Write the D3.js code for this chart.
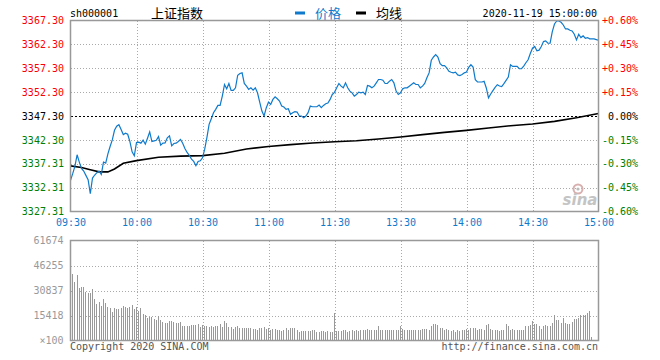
<!DOCTYPE html>
<html>
<head>
    <meta charset="utf-8">
    <title>上证指数 分时</title>
    <script src="https://cdnjs.cloudflare.com/ajax/libs/d3/7.8.5/d3.min.js"></script>
    <style>
        body { margin: 0; background: #fff; }
        text { font-family: "DejaVu Sans Mono", monospace; font-size: 10px; }
    </style>
</head>
<body>
<div id="graph"></div>
<script>
    var width = 660;
    var height = 360;

    // 昨收
    var preClose = 3347.30;

    // one price per minute, 09:30 .. 11:30, 13:01 .. 15:00
    var prices = [
        3333.83, 3335.22, 3336.74, 3339.18, 3337.65, 3336.33, 3335.77, 3334.87, 3333.97, 3331.05,
        3334.31, 3334.94, 3335.43, 3335.77, 3335.08, 3337.65, 3337.44, 3339.38, 3340.91, 3342.30,
        3344.31, 3345.15, 3345.49, 3344.45, 3343.41, 3343.69, 3343.48, 3341.95, 3339.80, 3338.97,
        3341.74, 3341.81, 3341.61, 3342.23, 3341.40, 3342.65, 3343.97, 3341.95, 3342.09, 3342.23,
        3342.99, 3341.19, 3341.61, 3341.68, 3342.72, 3343.13, 3341.05, 3341.54, 3341.61, 3341.95,
        3342.37, 3341.61, 3340.49, 3339.66, 3339.04, 3338.27, 3337.79, 3336.88, 3337.79, 3337.93,
        3338.55,
        3340.36, 3342.79, 3345.56, 3346.74, 3347.99, 3348.69, 3349.52, 3349.52, 3351.47, 3353.90,
        3352.99, 3354.11, 3352.65, 3352.65, 3353.20, 3355.84, 3356.19, 3356.33, 3354.11, 3353.55,
        3352.86, 3353.20, 3352.72, 3353.20, 3352.16, 3350.22, 3348.34, 3347.30, 3349.04, 3350.22,
        3349.73, 3350.77, 3351.33, 3350.91, 3350.42, 3349.38, 3349.17, 3348.69, 3348.83, 3347.65,
        3347.99, 3348.20, 3348.13, 3347.30, 3347.30, 3346.95, 3347.30, 3347.99, 3349.38, 3349.24,
        3349.24, 3349.24, 3349.59, 3349.04, 3349.52, 3349.87, 3350.01, 3350.77, 3351.81, 3352.25,
        3353.20, 3354.11, 3353.55, 3353.20, 3354.24, 3353.20, 3352.51, 3352.16, 3351.47, 3351.81,
        3352.30, 3352.16, 3352.30, 3351.81, 3353.69, 3353.55, 3353.20, 3353.55, 3354.24, 3354.94,
        3354.94, 3354.80, 3354.11, 3354.11, 3354.59, 3354.94, 3354.24, 3352.51, 3351.81, 3352.16,
        3352.99, 3353.20, 3353.20, 3353.55, 3353.90, 3354.24, 3353.90, 3353.90, 3353.20, 3353.55,
        3354.11, 3355.29, 3356.33, 3358.97, 3359.66, 3360.15, 3359.66, 3358.27, 3357.85, 3357.85,
        3357.37, 3356.67, 3356.47, 3356.33, 3356.47, 3355.91, 3355.77, 3355.98, 3356.33, 3356.50,
        3357.47, 3358.03, 3357.54, 3354.90, 3354.42, 3354.42, 3354.42, 3354.56, 3353.17, 3351.09,
        3351.92, 3352.61, 3353.31, 3353.86, 3353.59, 3353.45, 3354.07, 3354.77, 3355.46, 3358.03,
        3357.68, 3357.68, 3357.68, 3357.20, 3357.20, 3357.75, 3358.45, 3359.07, 3360.39, 3361.50,
        3361.85, 3360.95, 3361.09, 3361.85, 3362.89, 3363.03, 3362.54, 3362.54, 3364.97, 3366.57,
        3367.20, 3367.20, 3366.92, 3366.36, 3365.53, 3365.53, 3365.25, 3365.11, 3364.42, 3363.24,
        3364.42, 3363.72, 3364.07, 3363.58, 3363.72, 3363.45, 3363.45, 3363.45, 3363.31, 3363.17
    ];

    // 均线, read at a few minutes
    var avgMinutes = [0, 5, 9, 13, 17, 20, 24, 30, 40, 50, 60, 70, 80, 90, 100, 110, 120,
        130, 140, 150, 160, 170, 180, 190, 200, 210, 220, 230, 240];
    var avgPrices = [3336.85, 3336.50, 3336.05, 3335.60, 3335.60, 3336.20, 3337.40, 3337.95,
        3338.65, 3338.90, 3339.00, 3339.50, 3340.40, 3340.90, 3341.30, 3341.65, 3341.90,
        3342.13, 3342.49, 3342.91, 3343.39, 3343.87, 3344.29, 3344.79, 3345.27, 3345.63,
        3346.17, 3346.95, 3347.84];

    // 成交量 (x100), one per minute
    var volumes = [
        61674,
        40830, 35880, 40420, 32170, 32790, 32790, 29690, 29070, 29070, 31550,
        25360, 22270, 23510, 21440, 25360, 22890, 20830, 20210, 17320, 20210,
        19180, 19180, 20210, 21440, 20830, 19800, 20410, 21860, 19380, 20830,
        18150, 19800, 16080, 15670, 14020, 14640, 14640, 13200, 12580, 15050,
        12580, 11130, 10520, 10520, 12170, 12170, 11130, 10520, 10520, 11550,
        9070, 9070, 9070, 9070, 9490, 9490, 9490, 9900, 8450, 9490,
        9070, 9070, 8450, 9070, 8450, 9070, 9070, 9900, 8450, 11960,
        10520, 8450, 8450, 7010, 8450, 9070, 7420, 7840, 7840, 7420,
        7420, 7420, 7010, 7010, 6190, 7840, 7840, 8250, 6800, 7840,
        6190, 7010, 6800, 6390, 6190, 5770, 6600, 7420, 6390, 7420,
        7420, 7420, 6190, 5360, 5770, 5770, 5770, 5770, 5770, 6390,
        6190, 5360, 5360, 5770, 5770, 5360, 5770, 5360, 5360, 16910,
        5570, 5570, 5570, 6190, 6190, 5160, 5570, 6190, 5770, 6600,
        5770, 6190, 6600, 6190, 7010, 6600, 6190, 6600, 6600, 8660,
        6600, 6600, 6190, 6600, 6600, 6600, 6600, 6600, 6600, 8660,
        7220, 6600, 6600, 6190, 6190, 6190, 6190, 6600, 6190, 7220,
        7010, 7220, 6600, 8660, 9900, 9900, 9280, 7840, 7840, 6190,
        7220, 6190, 5770, 6190, 5160, 6190, 5770, 6190, 6190, 7010,
        6600, 7840, 7840, 7840, 6190, 7220, 7220, 6600, 9280, 9900,
        7220, 6190, 6190, 6190, 5770, 6190, 6190, 9900, 8660, 6190,
        7220, 6190, 6600, 6600, 6190, 6190, 8660, 8660, 9280, 11960,
        9900, 9900, 8660, 7220, 8660, 9280, 8660, 8660, 10720, 15470,
        12370, 12370, 10720, 13820, 10720, 10310, 10310, 11340, 13400, 13400,
        14020, 15470, 15470, 15470, 16910, 18150, 2060, 0, 0, 0
    ];

    var timeTicks = [0, 30, 60, 90, 120, 150, 180, 210, 240];
    var timeLabels = ["09:30", "10:00", "10:30", "11:00", "11:30", "13:30", "14:00", "14:30", "15:00"];

    var priceTicks = [3367.30, 3362.30, 3357.30, 3352.30, 3347.30, 3342.30, 3337.30, 3332.30, 3327.30];
    var priceLabels = ["3367.30", "3362.30", "3357.30", "3352.30", "3347.30", "3342.30", "3337.31", "3332.31", "3327.31"];
    var pctLabels = ["+0.60%", "+0.45%", "+0.30%", "+0.15%", "0.00%", "-0.15%", "-0.30%", "-0.45%", "-0.60%"];

    var volTicks = [61674, 46255, 30837, 15418, 0];
    var volLabels = ["61674", "46255", "30837", "15418", "\u00d7100"];

    var blue = "#0f7acb";
    var red = "#ff0000";
    var green = "#008000";
    var gridColor = "#aaa";
    var frameColor = "#999";

    var svg = d3.select("#graph").append("svg")
            .attr("width", width)
            .attr("height", height);

    var x = d3.scaleLinear().domain([0, 240]).range([70.5, 598.5]);
    var y = d3.scaleLinear().domain([3327.30, 3367.30]).range([211.5, 20.5]);
    var yv = d3.scaleLinear().domain([0, 61674]).range([340.5, 240.5]);

    function colorOf(v) {
        if (Math.abs(v - preClose) < 0.001) return "#000";
        return v > preClose ? red : green;
    }

    // ---------- header ----------
    svg.append("text").attr("x", 70).attr("y", 16.5).text("sh000001");
    svg.append("text").attr("x", 177).attr("y", 17.5)
            .attr("text-anchor", "middle")
            .style("font-family", "'Noto Sans CJK SC', sans-serif")
            .style("font-size", "13px")
            .text("上证指数");
    svg.append("rect").attr("x", 295).attr("y", 11.5).attr("width", 10).attr("height", 3).attr("fill", blue);
    svg.append("text").attr("x", 315).attr("y", 17.5)
            .style("font-family", "'Noto Sans CJK SC', sans-serif")
            .style("font-size", "13px")
            .attr("fill", blue)
            .text("价格");
    svg.append("rect").attr("x", 356).attr("y", 11.5).attr("width", 10).attr("height", 3).attr("fill", "#000");
    svg.append("text").attr("x", 376).attr("y", 17.5)
            .style("font-family", "'Noto Sans CJK SC', sans-serif")
            .style("font-size", "13px")
            .text("均线");
    svg.append("text").attr("x", 597).attr("y", 16.5)
            .attr("text-anchor", "end")
            .text("2020-11-19 15:00:00");

    // ---------- price panel ----------
    var grid = svg.append("g").attr("shape-rendering", "crispEdges");
    grid.selectAll(".hg")
            .data(priceTicks.filter(function (d, i) { return i > 0 && i < priceTicks.length - 1 && d != preClose; }))
            .enter().append("line")
            .attr("x1", x(0)).attr("x2", x(240))
            .attr("y1", function (d) { return Math.round(y(d)) + 0.5; })
            .attr("y2", function (d) { return Math.round(y(d)) + 0.5; })
            .attr("stroke", gridColor)
            .attr("stroke-dasharray", "1,2");
    grid.selectAll(".vg")
            .data(timeTicks.slice(1, timeTicks.length - 1))
            .enter().append("line")
            .attr("x1", function (d) { return Math.round(x(d)) + 0.5; })
            .attr("x2", function (d) { return Math.round(x(d)) + 0.5; })
            .attr("y1", y(3367.30)).attr("y2", y(3327.30))
            .attr("stroke", gridColor)
            .attr("stroke-dasharray", "1,2");
    grid.append("line")
            .attr("x1", x(0)).attr("x2", x(240))
            .attr("y1", Math.round(y(preClose)) + 0.5).attr("y2", Math.round(y(preClose)) + 0.5)
            .attr("stroke", "#000")
            .attr("stroke-dasharray", "2,2");

    // sina watermark
    var logo = svg.append("g").attr("fill", "#c4c4c4");
    logo.append("circle").attr("cx", 578).attr("cy", 189).attr("r", 4.5)
            .attr("fill", "none").attr("stroke", "#d8b0b0").attr("stroke-width", 2);
    logo.append("circle").attr("cx", 578).attr("cy", 189).attr("r", 1.6).attr("fill", "#bbb");
    logo.append("text").attr("x", 580).attr("y", 205)
            .attr("text-anchor", "middle")
            .style("font-family", "'DejaVu Sans', sans-serif")
            .style("font-size", "15px")
            .style("font-style", "italic")
            .style("font-weight", "bold")
            .text("sina");

    var avgLine = d3.line()
            .x(function (d) { return x(d[0]); })
            .y(function (d) { return y(d[1]); });
    svg.append("path")
            .datum(avgMinutes.map(function (m, i) { return [m, avgPrices[i]]; }))
            .attr("d", avgLine)
            .attr("fill", "none")
            .attr("stroke", "#000")
            .attr("stroke-width", 1.6);

    var priceLine = d3.line()
            .x(function (d, i) { return x(i); })
            .y(function (d) { return y(d); });
    svg.append("path")
            .datum(prices)
            .attr("d", priceLine)
            .attr("fill", "none")
            .attr("stroke", blue)
            .attr("stroke-width", 1.2);

    svg.append("rect")
            .attr("x", x(0)).attr("y", y(3367.30))
            .attr("width", x(240) - x(0)).attr("height", y(3327.30) - y(3367.30))
            .attr("fill", "none")
            .attr("stroke", frameColor)
            .attr("stroke-width", 1.5);

    var leftAxis = d3.axisLeft(y)
            .tickValues(priceTicks)
            .tickSize(0)
            .tickPadding(0)
            .tickFormat(function (d, i) { return priceLabels[i]; });
    var gl = svg.append("g").attr("transform", "translate(64,0)").call(leftAxis);
    gl.select(".domain").remove();
    gl.selectAll("text")
            .style("font-family", "'DejaVu Sans Mono', monospace")
            .style("font-size", "10px")
            .attr("fill", function (d) { return colorOf(d); });

    var rightAxis = d3.axisRight(y)
            .tickValues(priceTicks)
            .tickSize(0)
            .tickPadding(0)
            .tickFormat(function (d, i) { return pctLabels[i]; });
    var gr = svg.append("g").attr("transform", "translate(638,0)").call(rightAxis);
    gr.select(".domain").remove();
    gr.selectAll("text")
            .attr("text-anchor", "end")
            .style("font-family", "'DejaVu Sans Mono', monospace")
            .style("font-size", "10px")
            .attr("fill", function (d) { return colorOf(d); });

    var timeAxis = d3.axisBottom(x)
            .tickValues(timeTicks)
            .tickSize(0)
            .tickPadding(0)
            .tickFormat(function (d, i) { return timeLabels[i]; });
    var gt = svg.append("g").attr("transform", "translate(0,219)").call(timeAxis);
    gt.select(".domain").remove();
    gt.selectAll("text")
            .style("font-family", "'DejaVu Sans Mono', monospace")
            .style("font-size", "10px")
            .attr("fill", blue);

    // ---------- volume panel ----------
    var vgrid = svg.append("g").attr("shape-rendering", "crispEdges");
    vgrid.selectAll(".hg")
            .data(volTicks.slice(1, volTicks.length - 1))
            .enter().append("line")
            .attr("x1", x(0)).attr("x2", x(240))
            .attr("y1", function (d) { return Math.round(yv(d)) + 0.5; })
            .attr("y2", function (d) { return Math.round(yv(d)) + 0.5; })
            .attr("stroke", gridColor)
            .attr("stroke-dasharray", "1,2");
    vgrid.selectAll(".vg")
            .data(timeTicks.slice(1, timeTicks.length - 1))
            .enter().append("line")
            .attr("x1", function (d) { return Math.round(x(d)) + 0.5; })
            .attr("x2", function (d) { return Math.round(x(d)) + 0.5; })
            .attr("y1", yv(61674)).attr("y2", yv(0))
            .attr("stroke", gridColor)
            .attr("stroke-dasharray", "1,2");

    svg.append("g")
            .attr("shape-rendering", "crispEdges")
            .selectAll("line")
            .data(volumes)
            .enter().append("line")
            .attr("x1", function (d, i) { return Math.floor(x(i)) + 0.5; })
            .attr("x2", function (d, i) { return Math.floor(x(i)) + 0.5; })
            .attr("y1", yv(0))
            .attr("y2", function (d) { return yv(d); })
            .attr("stroke", "#999")
            .attr("stroke-width", 1);

    svg.append("rect")
            .attr("x", x(0)).attr("y", yv(61674))
            .attr("width", x(240) - x(0)).attr("height", yv(0) - yv(61674))
            .attr("fill", "none")
            .attr("stroke", frameColor)
            .attr("stroke-width", 1.5);

    var volAxis = d3.axisLeft(yv)
            .tickValues(volTicks)
            .tickSize(0)
            .tickPadding(0)
            .tickFormat(function (d, i) { return volLabels[i]; });
    var gv = svg.append("g").attr("transform", "translate(63.5,0)").call(volAxis);
    gv.select(".domain").remove();
    gv.selectAll("text")
            .style("font-family", "'DejaVu Sans Mono', monospace")
            .style("font-size", "10px")
            .attr("fill", "#999");

    svg.append("text").attr("x", 70).attr("y", 349.5).attr("fill", "#555").text("Copyright 2020 SINA.COM");
    svg.append("text").attr("x", 598).attr("y", 349.5).attr("fill", "#555")
            .attr("text-anchor", "end").text("http://finance.sina.com.cn");
</script>
</body>
</html>
